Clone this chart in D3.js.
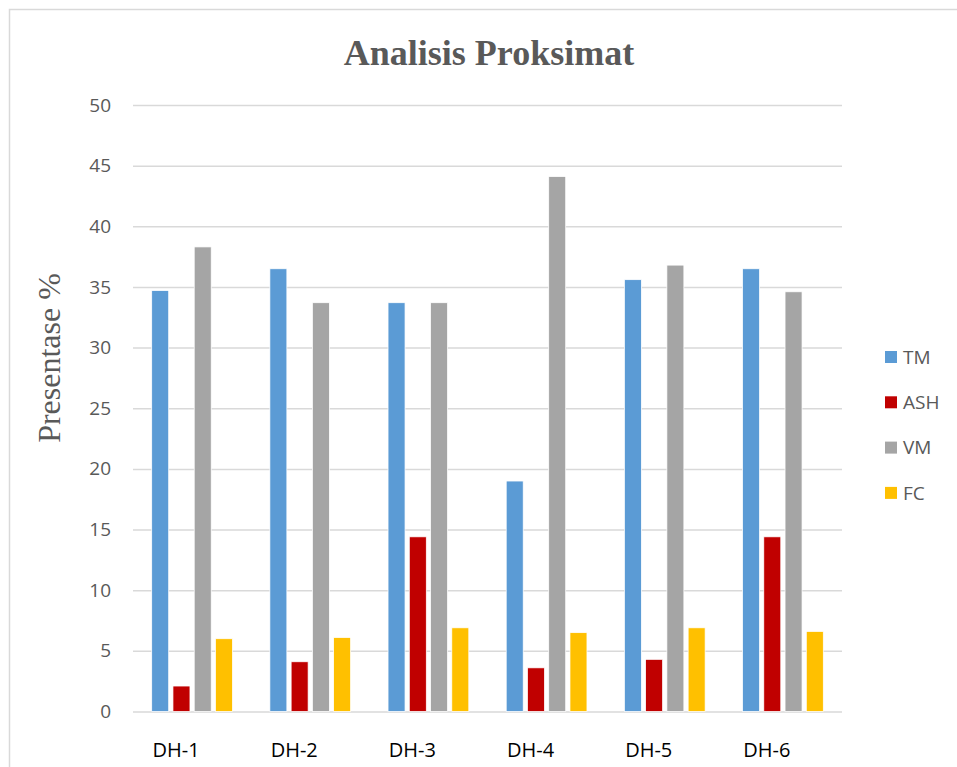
<!DOCTYPE html>
<html>
<head>
<meta charset="utf-8">
<script src="https://d3js.org/d3.v7.min.js"></script>
<style>
  body { margin: 0; background: #fff; }
  text { font-family: "Open Sans", sans-serif; }
</style>
</head>
<body>
<svg id="chart" width="957" height="767"></svg>
<script>
// Chart data.
var categories = ['DH-1', 'DH-2', 'DH-3', 'DH-4', 'DH-5', 'DH-6'];
var seriesNames = ['TM', 'ASH', 'VM', 'FC'];
var seriesColors = ['#5b9bd5', '#c00000', '#a5a5a5', '#ffc000'];
var tmValues = [34.7, 36.5, 33.7, 19.0, 35.6, 36.5];
var ashValues = [2.1, 4.1, 14.4, 3.6, 4.3, 14.4];
var vmValues = [38.3, 33.7, 33.7, 44.1, 36.8, 34.6];
var fcValues = [6.0, 6.1, 6.9, 6.5, 6.9, 6.6];
var yTicks = [0, 5, 10, 15, 20, 25, 30, 35, 40, 45, 50];

var seriesValues = [tmValues, ashValues, vmValues, fcValues];

var svg = d3.select('#chart');
var margin = { left: 133, right: 115, top: 105, bottom: 55 };
var width = 957 - margin.left - margin.right;
var height = 767 - margin.top - margin.bottom;

// Chart area border (runs past the right and bottom edges, as in the picture).
svg.append('rect')
  .attr('x', 9.5)
  .attr('y', 9.5)
  .attr('width', 980)
  .attr('height', 800)
  .attr('fill', '#fff')
  .attr('stroke', '#d9d9d9')
  .attr('stroke-width', 1.5);

var g = svg.append('g')
  .attr('transform', 'translate(' + margin.left + ',' + margin.top + ')');

var y = d3.scaleLinear().domain([0, 50]).range([height - 0.5, 0]);
var x0 = d3.scaleBand().domain(categories).range([0, width]).padding(0);
var x1 = d3.scaleBand().domain(seriesNames).range([0, x0.bandwidth()])
  .paddingInner(0.2).paddingOuter(0.88);

// Gridlines + y tick labels.
g.append('g')
  .call(d3.axisLeft(y).tickValues(yTicks).tickSize(-width).tickPadding(22))
  .call(function(a) {
    a.select('.domain').remove();
    a.selectAll('.tick line').attr('stroke', '#d9d9d9').attr('stroke-width', 1.5);
    a.selectAll('.tick text')
      .attr('fill', '#595959')
      .style('font-size', '19px')
      .style('font-family', '"Open Sans", sans-serif');
  });

// Bars.
var groups = g.selectAll('.group')
  .data(categories)
  .enter().append('g')
    .attr('class', 'group')
    .attr('transform', function(d) { return 'translate(' + x0(d) + ',0)'; });

groups.selectAll('rect')
  .data(function(d, i) {
    return seriesNames.map(function(s, j) {
      return { series: s, value: seriesValues[j][i], color: seriesColors[j] };
    });
  })
  .enter().append('rect')
    .attr('x', function(d) { return x1(d.series); })
    .attr('y', function(d) { return y(d.value); })
    .attr('width', x1.bandwidth())
    .attr('height', function(d) { return y(0) - y(d.value); })
    .attr('fill', function(d) { return d.color; })
    .attr('stroke', '#fff')
    .attr('stroke-width', 0.75);

// Category labels (sit left of the group centre in the original).
g.append('g')
  .selectAll('text')
  .data(categories)
  .enter().append('text')
    .attr('x', function(d) { return x0(d) + x0.bandwidth() / 2 - 16; })
    .attr('y', height + 45)
    .attr('text-anchor', 'middle')
    .attr('fill', '#000')
    .style('font-size', '20px')
    .text(function(d) { return d; });

// Title.
svg.append('text')
  .attr('x', 489)
  .attr('y', 65)
  .attr('text-anchor', 'middle')
  .attr('fill', '#595959')
  .style('font-family', '"Liberation Serif", "Times New Roman", serif')
  .style('font-weight', 'bold')
  .style('font-size', '36px')
  .text('Analisis Proksimat');

// Y axis title.
svg.append('text')
  .attr('transform', 'translate(60,358) rotate(-90)')
  .attr('text-anchor', 'middle')
  .attr('fill', '#595959')
  .style('font-family', '"Liberation Serif", "Times New Roman", serif')
  .style('font-size', '32px')
  .text('Presentase %');

// Legend.
var legend = svg.append('g')
  .selectAll('g')
  .data(seriesNames)
  .enter().append('g')
    .attr('transform', function(d, i) { return 'translate(885,' + (357 + i * 45.3) + ')'; });

legend.append('rect')
  .attr('x', 0)
  .attr('y', -6)
  .attr('width', 12)
  .attr('height', 12)
  .attr('fill', function(d, i) { return seriesColors[i]; });

legend.append('text')
  .attr('x', 18)
  .attr('y', 0)
  .attr('dy', '0.35em')
  .attr('fill', '#595959')
  .style('font-size', '19px')
  .text(function(d) { return d; });
</script>
</body>
</html>
